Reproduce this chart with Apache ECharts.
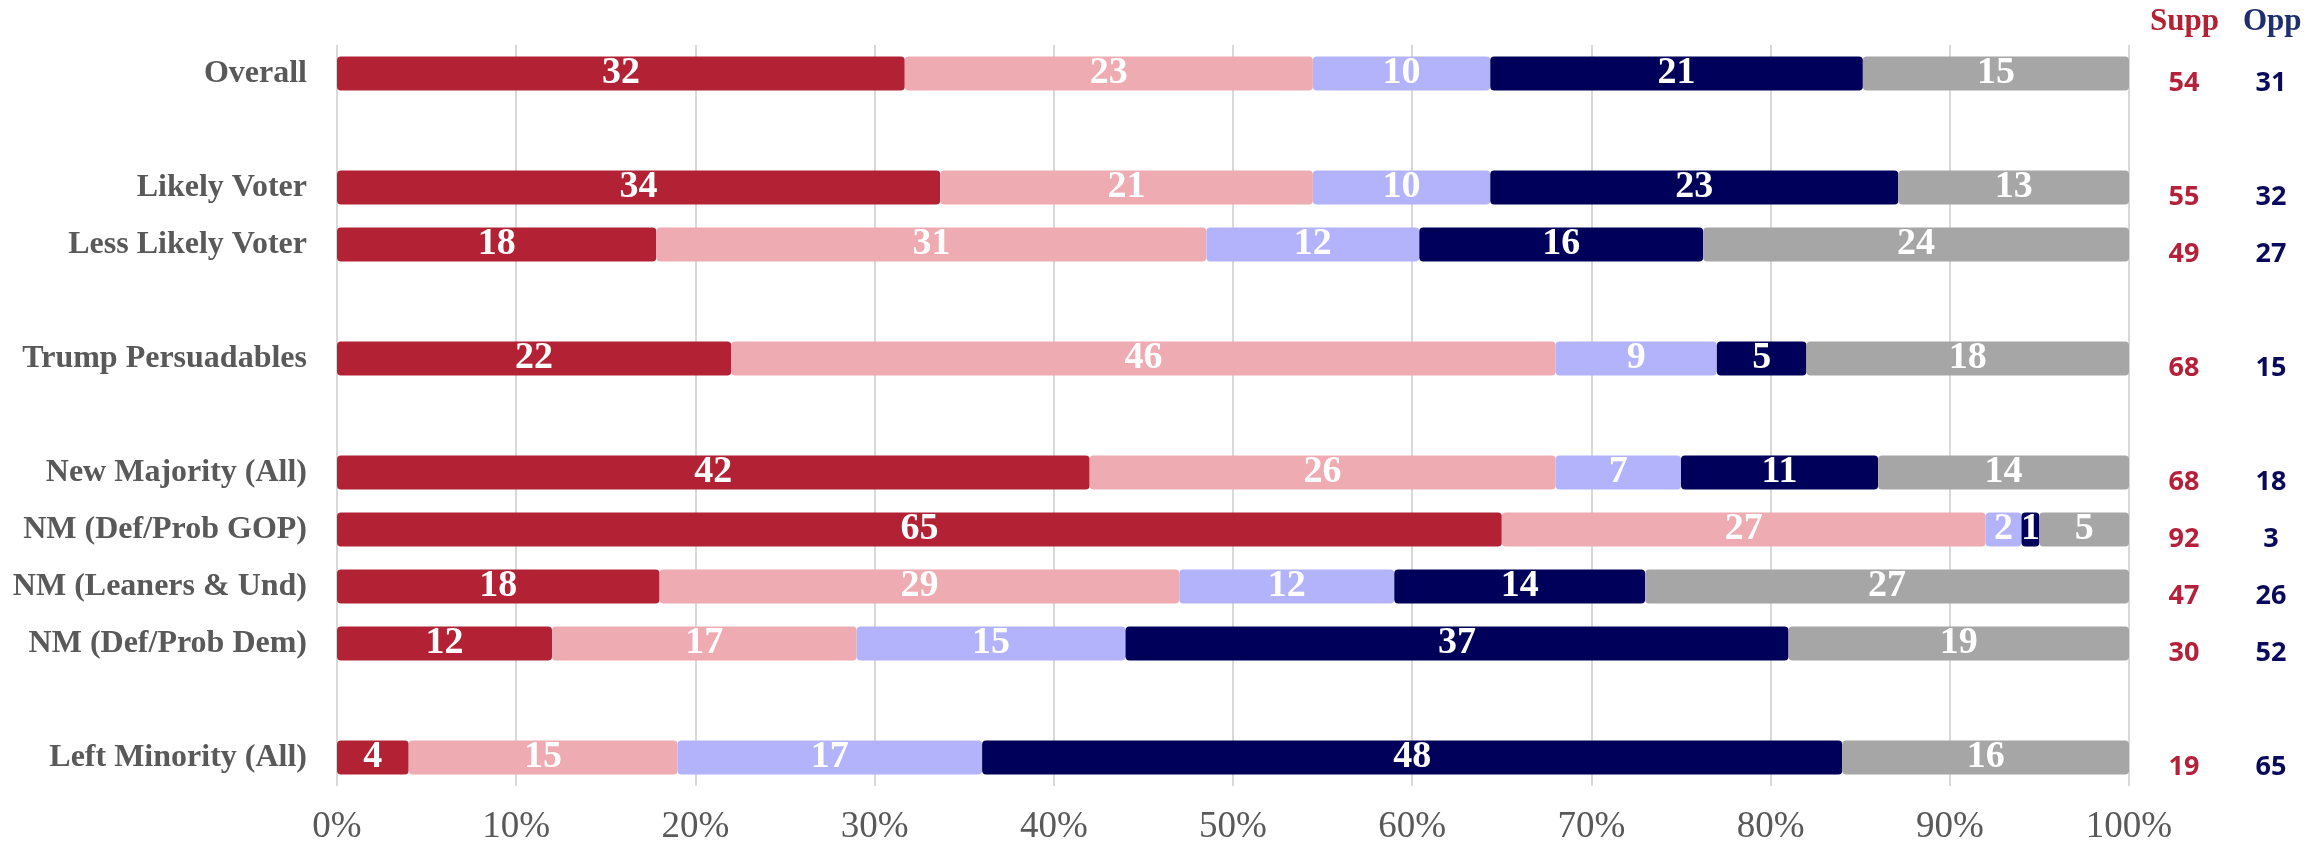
<!DOCTYPE html>
<html>
<head>
<meta charset="utf-8">
<script src="https://cdn.jsdelivr.net/npm/echarts@6/dist/echarts.min.js"></script>
<style>
  html, body { margin: 0; padding: 0; background: #fff; }
  #main { width: 2322px; height: 846px; }
</style>
</head>
<body>
<div id="main"></div>
<script>
// rows, top to bottom ('' = empty spacer row)
var categories = ['Overall', '', 'Likely Voter', 'Less Likely Voter', '', 'Trump Persuadables', '',
  'New Majority (All)', 'NM (Def/Prob GOP)', 'NM (Leaners & Und)', 'NM (Def/Prob Dem)', '', 'Left Minority (All)'];

// segment values (%)
var strongSupp = [32, null, 34, 18, null, 22, null, 42, 65, 18, 12, null, 4];
var someSupp   = [23, null, 21, 31, null, 46, null, 26, 27, 29, 17, null, 15];
var someOpp    = [10, null, 10, 12, null, 9,  null, 7,  2,  12, 15, null, 17];
var strongOpp  = [21, null, 23, 16, null, 5,  null, 11, 1,  14, 37, null, 48];
var unsure     = [15, null, 13, 24, null, 18, null, 14, 5,  27, 19, null, 16];

// right-hand totals
var suppTotal = [54, null, 55, 49, null, 68, null, 68, 92, 47, 30, null, 19];
var oppTotal  = [31, null, 32, 27, null, 15, null, 18, 3,  26, 52, null, 65];

var xTicks = [0, 10, 20, 30, 40, 50, 60, 70, 80, 90, 100];

var segments = [
  { name: 'Strongly support', data: strongSupp, color: '#B22234' },
  { name: 'Somewhat support', data: someSupp, color: '#EEABB1' },
  { name: 'Somewhat oppose', data: someOpp, color: '#B3B3FC' },
  { name: 'Strongly oppose', data: strongOpp, color: '#00005A' },
  { name: 'Not sure', data: unsure, color: '#A6A6A6' }
];

// 100% stacked: each row scaled to its own total
var rowTotal = categories.map(function (c, i) {
  var t = 0;
  segments.forEach(function (s) { if (s.data[i] != null) t += s.data[i]; });
  return t;
});

var serif = '"Liberation Serif", "DejaVu Serif", serif';
var sans = '"Noto Sans", "Open Sans", sans-serif';

var myChart = echarts.init(document.getElementById('main'));

myChart.setOption({
  animation: false,
  backgroundColor: '#ffffff',
  grid: { left: 337, right: 193, top: 45, bottom: 60, containLabel: false },
  xAxis: {
    type: 'value',
    min: xTicks[0],
    max: xTicks[xTicks.length - 1],
    interval: 10,
    axisLine: { show: false },
    axisTick: { show: false },
    splitLine: { lineStyle: { color: '#D9D9D9', width: 2 } },
    axisLabel: {
      formatter: '{value}%',
      color: '#595959',
      fontFamily: serif,
      fontSize: 37,
      margin: 23
    }
  },
  yAxis: [
    {
      type: 'category',
      inverse: true,
      data: categories,
      axisLine: { show: false },
      axisTick: { show: false },
      axisLabel: {
        color: '#595959',
        fontFamily: serif,
        fontWeight: 'bold',
        fontSize: 32,
        margin: 30
      }
    },
    {
      type: 'category',
      inverse: true,
      position: 'right',
      data: categories,
      axisLine: { show: false },
      axisTick: { show: false },
      axisLabel: {
        margin: 20,
        padding: [20, 0, 0, 0],
        formatter: function (v, i) {
          if (suppTotal[i] == null) return '';
          return '{s|' + suppTotal[i] + '}{o|' + oppTotal[i] + '}';
        },
        rich: {
          s: { width: 70, align: 'center', color: '#B5213A', fontFamily: sans, fontWeight: 'bold', fontSize: 27 },
          o: { width: 104, align: 'center', color: '#0A0A5C', fontFamily: sans, fontWeight: 'bold', fontSize: 27 }
        }
      }
    }
  ],
  graphic: [
    {
      type: 'text', left: 2150, top: 6,
      style: { text: 'Supp', fill: '#B22234', font: 'bold 31px "Liberation Serif", serif' }
    },
    {
      type: 'text', left: 2243, top: 6,
      style: { text: 'Opp', fill: '#1F2F6E', font: 'bold 31px "Liberation Serif", serif' }
    }
  ],
  series: segments.map(function (s) {
    return {
      name: s.name,
      type: 'bar',
      stack: 'total',
      barWidth: 34,
      itemStyle: { color: s.color, borderRadius: 4 },
      label: {
        show: true,
        position: 'inside',
        color: '#ffffff',
        fontFamily: serif,
        fontWeight: 'bold',
        fontSize: 38,
        formatter: function (p) { return s.data[p.dataIndex]; }
      },
      data: s.data.map(function (v, i) {
        return v == null ? '-' : v / rowTotal[i] * 100;
      })
    };
  })
});
</script>
</body>
</html>
